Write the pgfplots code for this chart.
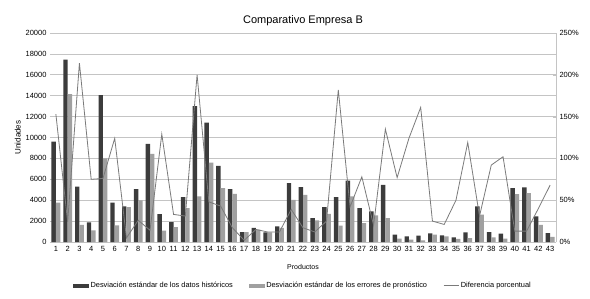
\documentclass[border=0pt]{standalone}
\usepackage{pgfplots}
\pgfplotsset{compat=1.18}
\usepackage{fontspec}
\setmainfont{Liberation Sans}
\definecolor{darkbar}{HTML}{3C3C3C}
\definecolor{lightbar}{HTML}{A0A0A0}
\definecolor{linec}{HTML}{7A7A7A}
\definecolor{gridc}{HTML}{C4C4C4}
\begin{document}
\begin{tikzpicture}
\path[use as bounding box] (-50pt,-56pt) rectangle (540pt,242pt);
\begin{axis}[
  at={(0pt,0pt)}, anchor=south west,
  scale only axis, width=506pt, height=209pt,
  xmin=0.5, xmax=43.5, ymin=0, ymax=20000,
  ybar=0pt, bar width=4.4pt,
  xtick={1,...,43}, xticklabel style={font=\fontsize{7.5}{8}\selectfont, inner sep=1pt, yshift=-3pt},
  ytick={0,2000,...,20000},
  scaled y ticks=false,
  yticklabel style={font=\fontsize{7.5}{8}\selectfont},
  /pgf/number format/assume math mode=true,
  /pgf/number format/1000 sep={},
  axis y line*=left, axis x line*=bottom,
  y axis line style={draw=none},
  x axis line style={draw=gridc},
  major tick length=0pt,
  ymajorgrids=true, grid style={draw=gridc, line width=0.7pt},
  ylabel={Unidades}, ylabel style={font=\fontsize{8}{9}\selectfont, yshift=-2pt},
  xlabel={Productos}, xlabel style={font=\fontsize{7}{8}\selectfont, yshift=-8pt},
  title={Comparativo Empresa B}, title style={font=\fontsize{11}{12}\selectfont, yshift=-2pt},
]
\addplot[fill=darkbar, draw=none] coordinates {
(1,9600)(2,17460)(3,5310)(4,1880)(5,14050)(6,3780)(7,3400)(8,5060)(9,9380)(10,2670)
(11,1910)(12,4290)(13,13000)(14,11420)(15,7280)(16,5060)(17,950)(18,1340)(19,920)(20,1500)
(21,5630)(22,5250)(23,2290)(24,3340)(25,4290)(26,5880)(27,3240)(28,2930)(29,5470)(30,700)
(31,540)(32,600)(33,830)(34,640)(35,450)(36,920)(37,3400)(38,950)(39,800)(40,5150)
(41,5220)(42,2450)(43,860)};
\addplot[fill=lightbar, draw=none] coordinates {
(1,3780)(2,14150)(3,1650)(4,1110)(5,8010)(6,1590)(7,3340)(8,3975)(9,8430)(10,1080)
(11,1430)(12,3240)(13,4360)(14,7600)(15,5150)(16,4610)(17,950)(18,1180)(19,920)(20,1340)
(21,4040)(22,4520)(23,2070)(24,2700)(25,1560)(26,4360)(27,1810)(28,2540)(29,2290)(30,320)
(31,220)(32,160)(33,700)(34,540)(35,290)(36,380)(37,2610)(38,450)(39,320)(40,4580)
(41,4670)(42,1650)(43,480)};
\end{axis}
\begin{axis}[
  at={(0pt,0pt)}, anchor=south west,
  scale only axis, width=506pt, height=209pt,
  xmin=0.5, xmax=43.5, ymin=0, ymax=250,
  axis y line*=right, axis x line=none,
  ytick={0,50,...,250},
  yticklabel={\pgfmathprintnumber{\tick}\%},
  yticklabel style={font=\fontsize{7.5}{8}\selectfont},
  /pgf/number format/assume math mode=true,
  y axis line style={draw=gridc},
  ytick style={draw=gridc},
  major tick length=3pt,
  legend style={at={(0.5,-0.21)}, anchor=center, draw=none, fill=none,
    font=\fontsize{7.4}{8}\selectfont, legend columns=3,
    /tikz/every even column/.append style={column sep=14pt}},
]
\addlegendimage{legend image code/.code={\fill[darkbar] (0pt,-1.6pt) rectangle (15pt,1.6pt);}}
\addlegendentry{Desviación estándar de los datos históricos}
\addlegendimage{legend image code/.code={\fill[lightbar] (0pt,-1.6pt) rectangle (15pt,1.6pt);}}
\addlegendentry{Desviación estándar de los errores de pronóstico}
\addplot[linec, line width=0.8pt, mark=none, legend image code/.code={\draw[linec, line width=0.8pt] (0pt,0pt) -- (15pt,0pt);}] coordinates {
(1,153)(2,24)(3,214)(4,75)(5,76)(6,124)(7,5)(8,26)(9,14)(10,129)
(11,33)(12,31)(13,200)(14,48)(15,43)(16,17)(17,2)(18,15)(19,12)(20,12)
(21,39)(22,17)(23,12)(24,25)(25,182)(26,42)(27,78)(28,20)(29,135)(30,77)
(31,124)(32,161)(33,25)(34,21)(35,50)(36,119)(37,31)(38,92)(39,102)(40,13)
(41,13)(42,40)(43,68)};
\addlegendentry{Diferencia porcentual}
\end{axis}
\end{tikzpicture}
\end{document}
